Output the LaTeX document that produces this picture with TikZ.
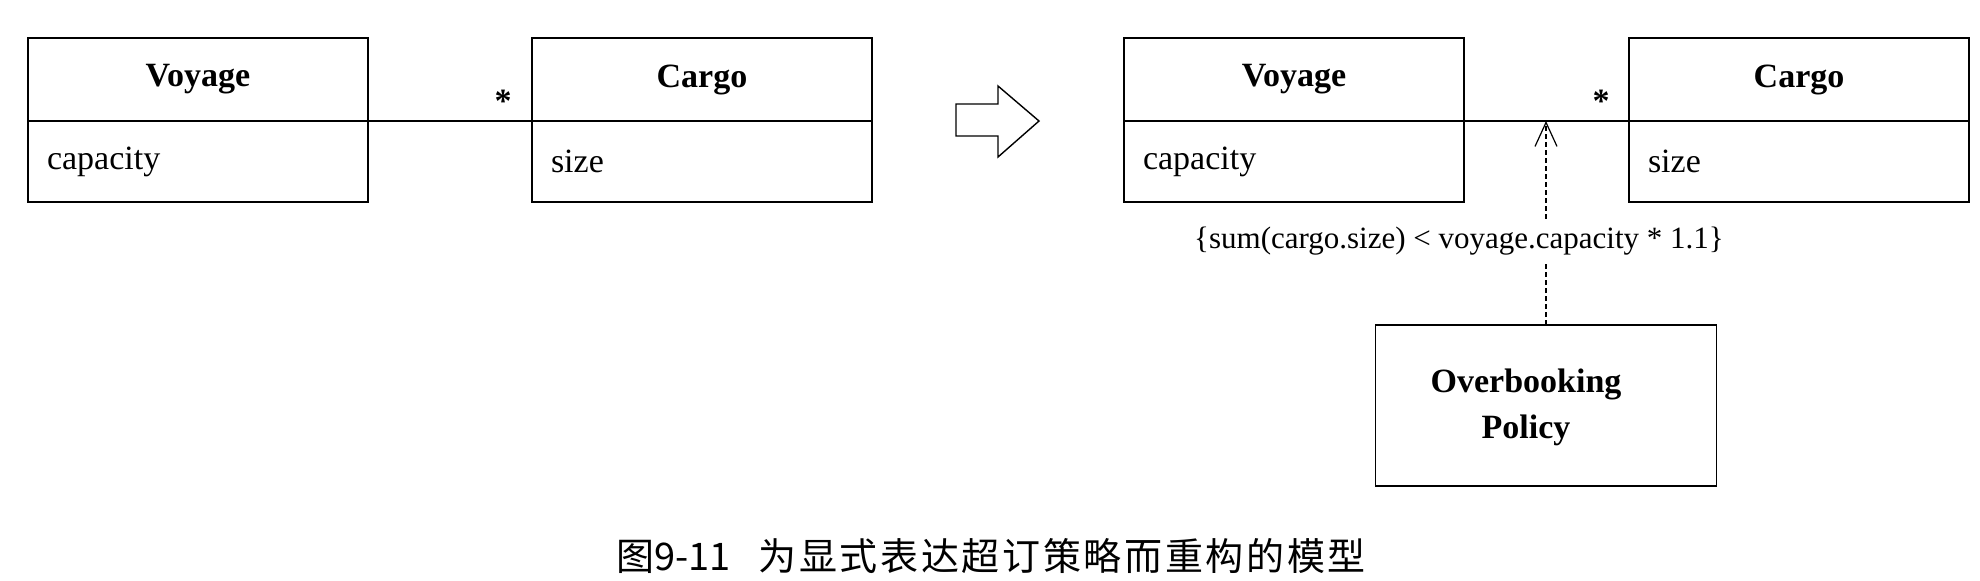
\documentclass[tikz,border=0pt]{standalone}
\usepackage{fontspec}
\setmainfont{Liberation Serif}
\newfontfamily\cjk{Noto Sans CJK SC}
\newfontfamily\cjkwide[LetterSpace=7]{Noto Sans CJK SC}
\usetikzlibrary{positioning, arrows.meta}
\begin{document}
\begin{tikzpicture}[x=0.5pt, y=-0.5pt, font=\fontsize{17}{22}\selectfont,
		classtitle/.style={draw, line width=0.8pt, outer sep=0pt, minimum width=170pt, minimum height=41.5pt, font=\fontsize{17}{22}\selectfont\bfseries},
		classattr/.style={draw, line width=0.8pt, outer sep=0pt, text width=151pt, inner xsep=9.5pt, minimum height=40.5pt, align=left},
		assoc/.style={line width=0.6pt},
		dep/.style={line width=0.6pt, dash pattern=on 2.5pt off 1.5pt}]
	\useasboundingbox (0,0) rectangle (1980,580);
	% before
	\node[classtitle, anchor=north west] (voyageA) at (28,38) {Voyage};
	\node[classattr, below=0pt of voyageA] (voyageAattr) {capacity};
	\node[classtitle, anchor=north west] (cargoA) at (532,38) {Cargo};
	\node[classattr, below=0pt of cargoA] (cargoAattr) {size};
	\draw[assoc] (voyageA.south east) -- (cargoA.south west);
	\node[font=\fontsize{17}{22}\selectfont\bfseries] (starA) at ([xshift=-14.5pt, yshift=10pt]cargoA.south west) {*};
	% refactoring arrow
	\draw[line width=0.7pt] (956,104) -- (998,104) -- (998,86) -- (1039,121) -- (998,157) -- (998,136) -- (956,136) -- cycle;
	% after
	\node[classtitle, anchor=north west] (voyageB) at (1124,38) {Voyage};
	\node[classattr, below=0pt of voyageB] (voyageBattr) {capacity};
	\node[classtitle, anchor=north west] (cargoB) at (1629,38) {Cargo};
	\node[classattr, below=0pt of cargoB] (cargoBattr) {size};
	\draw[assoc] (voyageB.south east) -- (cargoB.south west);
	\node[font=\fontsize{17}{22}\selectfont\bfseries] (starB) at ([xshift=-14pt, yshift=10pt]cargoB.south west) {*};
	\node[draw, line width=0.8pt, outer sep=0pt, minimum width=170.5pt, minimum height=80.5pt, align=center, font=\fontsize{17}{22}\selectfont\bfseries] (policy) at (1546,405.5) {\rule{0pt}{14pt}Overbooking\hspace*{20pt}\\[1pt]Policy\hspace*{20pt}};
	\coordinate (hook) at (policy.north |- voyageB.south east);
	\node[inner sep=4pt, font=\fontsize{15.5}{18}\selectfont] (constraint) at (1459,241) {\{sum(cargo.size) < voyage.capacity * 1.1\}};
	\draw[dep] (policy.north) -- (policy.north |- constraint.south);
	\draw[dep, -{Straight Barb[length=12pt, width=11pt]}] (policy.north |- constraint.north) -- (hook);
	% caption
	\node[font=\fontsize{19}{19}\selectfont] (caption) at (991,556) {\cjk 图9-11\hspace{14pt}{\cjkwide 为显式表达超订策略而重构的模型}};
\end{tikzpicture}
\end{document}
